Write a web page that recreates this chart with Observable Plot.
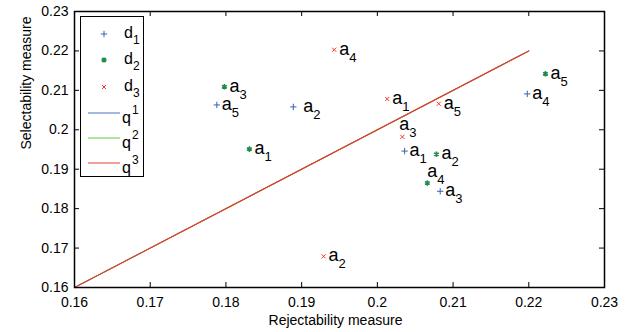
<!DOCTYPE html>
<html>
<head>
<meta charset="utf-8">
<script src="https://cdn.jsdelivr.net/npm/d3@7"></script>
<script src="https://cdn.jsdelivr.net/npm/@observablehq/plot@0.6"></script>
<style>
  html, body { margin: 0; padding: 0; background: white; }
  #wrap { position: relative; width: 644px; height: 332px; font-family: "Liberation Sans", Arial, sans-serif; }
  #legend { position: absolute; left: 80px; top: 16px; width: 62px; height: 159px; border: 1.5px solid black; background: white; }
</style>
</head>
<body>
<div id="wrap"></div>
<script>
// ---- data ----
const alternatives = ["1", "2", "3", "4", "5"];
const d1X = [0.2036, 0.1889, 0.2083, 0.2198, 0.1788];
const d1Y = [0.1946, 0.2058, 0.1844, 0.2091, 0.2063];
const d2X = [0.1831, 0.2078, 0.1798, 0.2066, 0.2222];
const d2Y = [0.1951, 0.1938, 0.2109, 0.1865, 0.2142];
const d3X = [0.2013, 0.1929, 0.2033, 0.1943, 0.2081];
const d3Y = [0.2078, 0.1679, 0.1982, 0.2203, 0.2066];
const qX  = [0.16, 0.22];
const q1Y = [0.16, 0.22];
const q2Y = [0.16, 0.22];
const q3Y = [0.16, 0.22];
const xTicks = [0.16, 0.17, 0.18, 0.19, 0.20, 0.21, 0.22, 0.23];
const xTickLabels = ["0.16", "0.17", "0.18", "0.19", "0.2", "0.21", "0.22", "0.23"];
const yTicks = [0.16, 0.17, 0.18, 0.19, 0.20, 0.21, 0.22, 0.23];
const yTickLabels = ["0.16", "0.17", "0.18", "0.19", "0.2", "0.21", "0.22", "0.23"];
const seriesNames = ["d1", "d2", "d3"];
const lineNames = ["q1", "q2", "q3"];

// ---- styles ----
const colors = {d1: "#3d5eb3", d2: "#1e8c4c", d3: "#ff3030", q1: "#4f72c4", q2: "#5fcc3a", q3: "#e0402c"};
// label offsets (px) for points whose label is not placed right of the marker
const labelOffset = {"d1-2": [10, 0], "d3-3": [-3, -12], "d2-4": [0, -11]};

const toRows = (name, X, Y) => X.map((x, i) => ({series: name, k: alternatives[i], x, y: Y[i]}));
const d1 = toRows("d1", d1X, d1Y);
const d2 = toRows("d2", d2X, d2Y);
const d3r = toRows("d3", d3X, d3Y);
const qLine = (Y) => qX.map((x, i) => ({x, y: Y[i]}));

const W = 644, H = 332, mL = 74, mR = 40, mT = 11, mB = 45;
const fw = W - mL - mR, fh = H - mT - mB, tl = 5;

const labelMarks = [];
for (const r of [...d1, ...d2, ...d3r]) {
  const [ox, oy] = labelOffset[r.series + "-" + r.k] || [5, 0];
  labelMarks.push(Plot.text([r], {x: "x", y: "y", text: () => "a", dx: ox, dy: oy + 5,
    textAnchor: "start", lineAnchor: "bottom", fontSize: 18, fill: "black"}));
  labelMarks.push(Plot.text([r], {x: "x", y: "y", text: "k", dx: ox + 10, dy: oy + 12,
    textAnchor: "start", lineAnchor: "bottom", fontSize: 13, fill: "black"}));
}

const chart = Plot.plot({
  width: W, height: H, marginLeft: mL, marginRight: mR, marginTop: mT, marginBottom: mB,
  x: {domain: [0.16, 0.23]},
  y: {domain: [0.16, 0.23]},
  style: {fontFamily: "'Liberation Sans', Arial, sans-serif", fontSize: "14px", background: "white", color: "black"},
  marks: [
    Plot.line(qLine(q1Y), {x: "x", y: "y", stroke: colors.q1, strokeWidth: 1}),
    Plot.line(qLine(q2Y), {x: "x", y: "y", stroke: colors.q2, strokeWidth: 1}),
    Plot.line(qLine(q3Y), {x: "x", y: "y", stroke: colors.q3, strokeWidth: 1.2}),
    Plot.dot(d1, {x: "x", y: "y", symbol: "plus", r: 2.2, stroke: colors.d1, strokeWidth: 1}),
    Plot.dot(d2, {x: "x", y: "y", symbol: "asterisk", r: 2.6, stroke: colors.d2, strokeWidth: 1.6}),
    Plot.dot(d3r, {x: "x", y: "y", symbol: "times", r: 2, stroke: colors.d3, strokeWidth: 1}),
    ...labelMarks,
    Plot.axisX(xTicks, {tickSize: 0, tickPadding: 10, tickFormat: d => xTickLabels[xTicks.indexOf(d)], label: null, fontSize: 14}),
    Plot.axisY(yTicks, {tickSize: 0, tickPadding: 6, tickFormat: d => yTickLabels[yTicks.indexOf(d)], label: null, fontSize: 14}),
    Plot.tickX(xTicks, {x: d => d, insetTop: fh - tl, stroke: "black"}),
    Plot.tickX(xTicks, {x: d => d, insetBottom: fh - tl, stroke: "black"}),
    Plot.tickY(yTicks, {y: d => d, insetRight: fw - tl, stroke: "black"}),
    Plot.tickY(yTicks, {y: d => d, insetLeft: fw - tl, stroke: "black"}),
    Plot.frame({stroke: "black", strokeWidth: 1.5}),
    Plot.text(["Rejectability measure"], {frameAnchor: "bottom", dx: -4, dy: 37, lineAnchor: "bottom", fontSize: 14, fill: "black"}),
    Plot.text(["Selectability measure"], {frameAnchor: "left", dx: -44, rotate: -90, lineAnchor: "bottom", fontSize: 14, fill: "black"})
  ]
});
const wrap = document.getElementById("wrap");
wrap.appendChild(chart);

// ---- legend ----
const ns = "http://www.w3.org/2000/svg";
const leg = document.createElement("div");
leg.id = "legend";
const svg = document.createElementNS(ns, "svg");
svg.setAttribute("width", 62); svg.setAttribute("height", 159);
svg.style.fontFamily = "'Liberation Sans', Arial, sans-serif";
leg.appendChild(svg);
wrap.appendChild(leg);
const ox = 80, oy = 16;
const rowsY = [33, 59, 86, 112, 137, 162];
function txt(s, x, y, size) {
  const t = document.createElementNS(ns, "text");
  t.setAttribute("x", x); t.setAttribute("y", y); t.setAttribute("font-size", size);
  t.setAttribute("fill", "black"); t.textContent = s; svg.appendChild(t);
}
function el(tag, attrs) {
  const e = document.createElementNS(ns, tag);
  for (const k in attrs) e.setAttribute(k, attrs[k]);
  svg.appendChild(e);
}
const symPath = {
  d1: "M-3.2,0H3.2M0,-3.2V3.2",
  d2: "M-2.6,0H2.6M0,-2.6V2.6M-1.9,-1.9L1.9,1.9M-1.9,1.9L1.9,-1.9",
  d3: "M-2,-2L2,2M-2,2L2,-2"
};
const sw = {d1: 1, d2: 1.4, d3: 1};
seriesNames.forEach((s, i) => {
  const cy = rowsY[i] - oy, cx = 103 - ox;
  el("path", {d: symPath[s], transform: `translate(${cx},${cy})`, stroke: colors[s], "stroke-width": sw[s], fill: "none"});
  txt(s[0], 123 - ox, cy + 4, 16);
  txt(s.slice(1), 132 - ox, cy + 10, 12);
});
lineNames.forEach((s, j) => {
  const cy = rowsY[3 + j] - oy;
  el("line", {x1: 87 - ox, x2: 119 - ox, y1: cy, y2: cy, stroke: colors[s], "stroke-width": 1});
  txt(s[0], 121 - ox, cy + 10, 16);
  txt(s.slice(1), 131 - ox, cy + 1, 12);
});
</script>
</body>
</html>
